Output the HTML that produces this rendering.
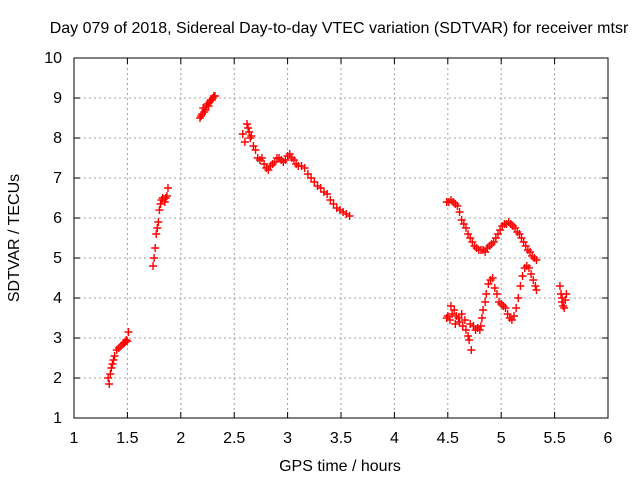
<!DOCTYPE html>
<html><head><meta charset="utf-8"><style>
body{margin:0;background:#fff;font-family:"Liberation Sans",sans-serif}
svg text{font-family:"Liberation Sans",sans-serif;font-size:16px;fill:#000}
</style></head><body>
<svg id="chart" width="640" height="480" xmlns="http://www.w3.org/2000/svg">
<rect width="640" height="480" fill="#fff"/>
<text x="339" y="33" text-anchor="middle">Day 079 of 2018, Sidereal Day-to-day VTEC variation (SDTVAR) for receiver mtsr</text>
<g id="grid"></g><g id="ticks"></g><g id="marks"></g>
<rect x="74" y="58" width="534" height="360" fill="none" stroke="#000" stroke-width="1"/>
<text x="340" y="471" text-anchor="middle">GPS time / hours</text>
<text transform="translate(19,238) rotate(-90)" text-anchor="middle">SDTVAR / TECUs</text>
</svg>
<script>
const xTicks=[1,1.5,2,2.5,3,3.5,4,4.5,5,5.5,6];
const yTicks=[1,2,3,4,5,6,7,8,9,10];
const seriesX=[1.32,1.33,1.34,1.35,1.36,1.37,1.38,1.40,1.42,1.44,1.46,1.47,1.48,1.49,1.50,1.51,
1.74,1.75,1.76,1.77,1.78,1.79,1.80,1.81,1.82,1.83,1.85,1.86,1.87,1.88,
2.18,2.19,2.20,2.21,2.22,2.23,2.24,2.25,2.26,2.27,2.28,2.29,2.30,2.31,2.32,
2.58,2.60,2.62,2.63,2.64,2.65,2.66,2.68,2.70,2.72,2.74,2.76,2.78,2.80,2.82,2.84,2.86,2.88,2.90,2.92,2.94,2.96,2.98,3.00,3.02,3.04,3.06,3.08,3.10,3.13,3.16,3.19,3.22,3.25,3.28,3.31,3.34,3.37,3.40,3.43,3.46,3.49,3.52,3.55,3.58,
4.49,4.51,4.53,4.55,4.57,4.59,4.61,4.63,4.65,4.67,4.69,4.71,4.73,4.75,4.77,4.79,4.81,4.83,4.85,4.87,4.89,4.91,4.93,4.95,4.97,4.99,5.01,5.03,5.05,5.07,5.09,5.11,5.13,5.15,5.17,5.19,5.21,5.23,5.25,5.27,5.29,5.31,5.33,
4.49,4.50,4.52,4.53,4.54,4.56,4.57,4.58,4.60,4.61,4.63,4.64,4.66,4.67,4.69,4.70,4.71,4.72,4.74,4.76,4.78,4.80,4.81,4.82,4.83,4.85,4.86,4.88,4.90,4.92,4.94,4.96,4.98,5.00,5.02,5.04,5.06,5.08,5.10,5.12,5.14,5.16,5.18,5.20,5.22,5.24,5.26,5.28,5.30,5.32,5.33,
5.55,5.56,5.57,5.57,5.58,5.59,5.60,5.61];
const seriesY=[2.0,1.85,2.1,2.25,2.35,2.45,2.55,2.7,2.75,2.8,2.85,2.88,2.9,2.95,2.92,3.15,
4.8,5.0,5.25,5.6,5.75,5.9,6.2,6.35,6.45,6.5,6.4,6.5,6.55,6.75,
8.5,8.55,8.6,8.75,8.65,8.7,8.8,8.85,8.8,8.9,8.95,8.95,9.0,9.05,9.05,
8.1,7.9,8.35,8.25,8.15,8.0,8.05,7.8,7.7,7.5,7.45,7.5,7.35,7.25,7.2,7.3,7.35,7.4,7.5,7.5,7.45,7.4,7.45,7.55,7.6,7.5,7.45,7.35,7.3,7.3,7.25,7.1,7.0,6.9,6.8,6.75,6.65,6.6,6.45,6.35,6.25,6.2,6.15,6.1,6.05,
6.4,6.4,6.45,6.4,6.35,6.3,6.15,5.95,5.85,5.75,5.6,5.5,5.4,5.3,5.25,5.2,5.2,5.2,5.15,5.25,5.3,5.35,5.4,5.5,5.6,5.7,5.8,5.85,5.85,5.9,5.85,5.8,5.75,5.65,5.6,5.5,5.4,5.3,5.2,5.15,5.05,5.0,4.95,
3.5,3.55,3.45,3.8,3.6,3.7,3.35,3.55,3.5,3.4,3.6,3.3,3.45,3.2,3.05,2.95,3.35,2.7,3.3,3.2,3.25,3.2,3.3,3.5,3.7,3.9,4.1,4.35,4.45,4.5,4.25,4.1,3.9,3.85,3.8,3.75,3.6,3.5,3.45,3.55,3.75,4.0,4.3,4.55,4.75,4.8,4.75,4.6,4.45,4.3,4.2,
4.3,4.1,3.9,4.0,3.8,3.75,3.95,4.1];
const svg=document.getElementById('chart');
const NS='http://www.w3.org/2000/svg';
const xs=v=>74+(v-1)*534/5;
const ys=v=>418-(v-1)*40;
function mk(tag,attrs,parent){const e=document.createElementNS(NS,tag);for(const k in attrs)e.setAttribute(k,attrs[k]);parent.appendChild(e);return e;}
const grid=document.getElementById('grid'),ticks=document.getElementById('ticks'),marks=document.getElementById('marks');
xTicks.forEach(t=>{const x=xs(t);
 if(t>1&&t<6){const g=mk('line',{x1:x,x2:x,y1:58,y2:418,stroke:'#a0a0a0','stroke-dasharray':'2,3'},grid);
 
 }
 mk('line',{x1:x,x2:x,y1:418,y2:412,stroke:'#000'},ticks);mk('line',{x1:x,x2:x,y1:58,y2:64,stroke:'#000'},ticks);
 const l=mk('text',{x:x,y:443,'text-anchor':'middle'},ticks);l.textContent=String(t);
 
 });
yTicks.forEach(t=>{const y=ys(t);
 if(t>1&&t<10){const g=mk('line',{x1:74,x2:608,y1:y,y2:y,stroke:'#a0a0a0','stroke-dasharray':'2,3'},grid);
 
 }
 mk('line',{x1:74,x2:80,y1:y,y2:y,stroke:'#000'},ticks);mk('line',{x1:608,x2:602,y1:y,y2:y,stroke:'#000'},ticks);
 const l=mk('text',{x:62,y:y+5,'text-anchor':'end'},ticks);l.textContent=String(t);
 
 });
seriesX.forEach((v,i)=>{const x=xs(v),y=ys(seriesY[i]);
 const p=mk('path',{d:`M${x-4},${y}H${x+4}M${x},${y-4}V${y+4}`,stroke:'#f00','stroke-width':1.4,fill:'none'},marks);
 
 });
</script>
</body></html>
